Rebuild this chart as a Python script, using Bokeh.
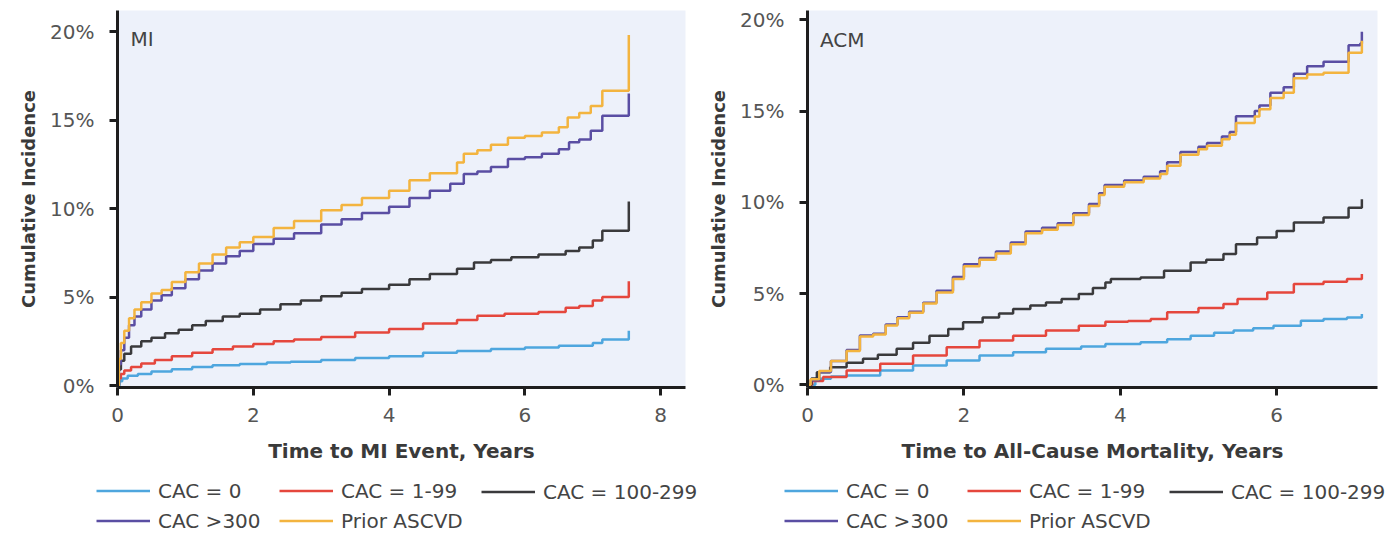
from bokeh.plotting import figure
from bokeh.models import Range1d, FixedTicker, PrintfTickFormatter, Legend, LegendItem, Label
from bokeh.layouts import row, column
from bokeh.embed import file_html
from bokeh.resources import INLINE

# ---------------- data ----------------
series_names = ["CAC = 0", "CAC = 1-99", "CAC = 100-299", "CAC >300", "Prior ASCVD"]
series_colors = ["#4ea6de", "#e5473d", "#3a3a3c", "#5a4ea3", "#f3b43f"]

# MI panel (years, cumulative incidence %)
mi_t_cac0 = [0, 0.03, 0.07, 0.15, 0.3, 0.5, 0.8, 1.1, 1.4, 1.8, 2.2, 2.55, 3.0, 3.5, 4.0, 4.5, 5.0, 5.5, 6.0, 6.5, 7.0, 7.14, 7.53, 7.53]
mi_v_cac0 = [0, 0.25, 0.4, 0.55, 0.65, 0.8, 0.92, 1.05, 1.15, 1.22, 1.3, 1.35, 1.45, 1.55, 1.65, 1.85, 1.95, 2.07, 2.15, 2.25, 2.4, 2.6, 2.6, 3.1]

mi_t_cac1 = [0, 0.02, 0.05, 0.1, 0.2, 0.35, 0.55, 0.8, 1.1, 1.4, 1.7, 2.0, 2.3, 2.6, 3.0, 3.5, 4.0, 4.5, 5.0, 5.3, 5.7, 6.2, 6.6, 6.8, 7.0, 7.14, 7.53, 7.53]
mi_v_cac1 = [0, 0.4, 0.65, 0.85, 1.05, 1.25, 1.45, 1.65, 1.85, 2.05, 2.2, 2.35, 2.5, 2.6, 2.75, 3.0, 3.2, 3.5, 3.7, 3.95, 4.05, 4.15, 4.4, 4.5, 4.8, 5.0, 5.0, 5.9]

mi_t_cac100 = [0, 0.02, 0.05, 0.1, 0.2, 0.35, 0.5, 0.7, 0.9, 1.1, 1.3, 1.55, 1.8, 2.1, 2.4, 2.7, 3.0, 3.3, 3.6, 4.0, 4.3, 4.6, 5.0, 5.25, 5.5, 5.8, 6.2, 6.6, 6.8, 7.0, 7.14, 7.53, 7.53]
mi_v_cac100 = [0, 0.9, 1.4, 1.8, 2.2, 2.5, 2.7, 2.95, 3.15, 3.4, 3.65, 3.9, 4.05, 4.3, 4.6, 4.8, 5.05, 5.25, 5.45, 5.7, 6.0, 6.3, 6.6, 6.95, 7.1, 7.25, 7.4, 7.6, 7.8, 8.2, 8.75, 8.75, 10.4]

mi_t_cac300 = [0, 0.02, 0.05, 0.1, 0.17, 0.25, 0.35, 0.5, 0.65, 0.8, 1.0, 1.2, 1.4, 1.6, 1.8, 2.0, 2.3, 2.6, 3.0, 3.3, 3.6, 4.0, 4.3, 4.6, 4.9, 5.1, 5.3, 5.5, 5.75, 6.0, 6.25, 6.5, 6.65, 6.8, 6.97, 7.14, 7.53, 7.53]
mi_v_cac300 = [0, 1.2, 2.0, 2.7, 3.4, 3.9, 4.3, 4.8, 5.1, 5.5, 6.0, 6.5, 6.9, 7.3, 7.6, 8.0, 8.3, 8.6, 9.1, 9.4, 9.75, 10.1, 10.6, 11.0, 11.4, 11.95, 12.1, 12.35, 12.8, 12.9, 13.1, 13.35, 13.75, 13.9, 14.4, 15.25, 15.25, 16.5]

mi_t_prior = [0, 0.02, 0.05, 0.1, 0.17, 0.25, 0.35, 0.5, 0.65, 0.8, 1.0, 1.2, 1.4, 1.6, 1.8, 2.0, 2.3, 2.6, 3.0, 3.3, 3.6, 4.0, 4.3, 4.6, 5.0, 5.1, 5.3, 5.5, 5.75, 6.0, 6.25, 6.5, 6.63, 6.8, 6.97, 7.14, 7.53, 7.53]
mi_v_prior = [0, 1.5, 2.4, 3.1, 3.8, 4.3, 4.7, 5.2, 5.4, 5.85, 6.4, 6.9, 7.4, 7.8, 8.1, 8.4, 8.9, 9.3, 9.9, 10.2, 10.6, 11.0, 11.6, 12.0, 12.6, 13.1, 13.3, 13.6, 14.0, 14.1, 14.3, 14.6, 15.15, 15.4, 15.8, 16.65, 16.65, 19.8]

# ACM panel (years, cumulative incidence %)
acm_t_cac0 = [0, 0.1, 0.3, 0.5, 0.93, 1.35, 1.78, 2.2, 2.63, 3.05, 3.5, 3.81, 4.26, 4.6, 4.9, 5.2, 5.45, 5.7, 5.96, 6.31, 6.6, 6.9, 7.09]
acm_v_cac0 = [0, 0.33, 0.45, 0.51, 0.78, 1.05, 1.33, 1.6, 1.78, 1.97, 2.1, 2.24, 2.33, 2.5, 2.69, 2.85, 2.97, 3.1, 3.24, 3.51, 3.6, 3.69, 3.88]

acm_t_cac1 = [0, 0.06, 0.2, 0.5, 0.93, 1.35, 1.78, 2.2, 2.63, 3.05, 3.47, 3.81, 4.1, 4.39, 4.6, 5.0, 5.32, 5.5, 5.88, 6.22, 6.6, 6.9, 7.09]
acm_v_cac1 = [0, 0.2, 0.42, 0.78, 1.15, 1.6, 2.05, 2.42, 2.69, 2.97, 3.24, 3.45, 3.5, 3.61, 3.97, 4.2, 4.43, 4.7, 5.06, 5.52, 5.65, 5.79, 6.07]

acm_t_cac100 = [0, 0.05, 0.12, 0.29, 0.5, 0.71, 0.9, 1.14, 1.35, 1.56, 1.8, 1.99, 2.24, 2.45, 2.63, 2.85, 3.05, 3.25, 3.47, 3.65, 3.81, 3.88, 4.26, 4.56, 4.9, 5.1, 5.32, 5.48, 5.75, 6.0, 6.22, 6.6, 6.92, 7.09]
acm_v_cac100 = [0, 0.35, 0.69, 0.96, 1.2, 1.42, 1.65, 1.97, 2.3, 2.69, 3.05, 3.42, 3.69, 3.9, 4.15, 4.35, 4.51, 4.7, 4.97, 5.3, 5.6, 5.79, 5.88, 6.25, 6.7, 6.85, 7.16, 7.7, 8.07, 8.43, 8.89, 9.16, 9.7, 10.16]

acm_t_cac300 = [0, 0.04, 0.15, 0.3, 0.5, 0.67, 0.84, 1.0, 1.15, 1.3, 1.48, 1.65, 1.86, 2.0, 2.2, 2.41, 2.6, 2.79, 3.0, 3.2, 3.4, 3.6, 3.73, 3.8, 4.05, 4.3, 4.51, 4.6, 4.77, 5.0, 5.11, 5.3, 5.4, 5.48, 5.72, 5.78, 5.92, 6.09, 6.22, 6.39, 6.6, 6.92, 7.07, 7.09]
acm_v_cac300 = [0, 0.25, 0.7, 1.3, 1.9, 2.7, 2.8, 3.3, 3.7, 4.0, 4.5, 5.15, 5.9, 6.6, 6.95, 7.3, 7.8, 8.4, 8.6, 8.85, 9.4, 9.9, 10.5, 10.95, 11.2, 11.4, 11.7, 12.2, 12.75, 13.05, 13.25, 13.6, 13.85, 14.72, 15.0, 15.3, 16.0, 16.3, 17.05, 17.45, 17.7, 18.6, 18.7, 19.35]

acm_t_prior = [0, 0.04, 0.15, 0.3, 0.5, 0.67, 0.84, 1.0, 1.15, 1.3, 1.48, 1.65, 1.86, 2.0, 2.2, 2.41, 2.6, 2.79, 3.0, 3.2, 3.4, 3.6, 3.73, 3.8, 4.05, 4.3, 4.51, 4.6, 4.77, 5.0, 5.11, 5.3, 5.4, 5.48, 5.72, 5.78, 5.92, 6.09, 6.22, 6.39, 6.6, 6.92, 7.09, 7.09]
acm_v_prior = [0, 0.3, 0.75, 1.3, 1.85, 2.65, 2.75, 3.25, 3.65, 3.95, 4.45, 5.05, 5.8, 6.5, 6.85, 7.2, 7.7, 8.3, 8.5, 8.75, 9.3, 9.8, 10.4, 10.85, 11.1, 11.3, 11.55, 12.0, 12.6, 12.9, 13.1, 13.45, 13.7, 14.35, 14.7, 15.1, 15.72, 16.0, 16.8, 17.0, 17.1, 18.2, 18.2, 18.85]

mi_x_ticks = [0, 2, 4, 6, 8]
acm_x_ticks = [0, 2, 4, 6]
y_ticks = [0, 5, 10, 15, 20]

FONT = "DejaVu Sans"

mi_curves = [(mi_t_cac0, mi_v_cac0), (mi_t_cac1, mi_v_cac1), (mi_t_cac100, mi_v_cac100),
             (mi_t_cac300, mi_v_cac300), (mi_t_prior, mi_v_prior)]
acm_curves = [(acm_t_cac0, acm_v_cac0), (acm_t_cac1, acm_v_cac1), (acm_t_cac100, acm_v_cac100),
              (acm_t_cac300, acm_v_cac300), (acm_t_prior, acm_v_prior)]


def make_panel(width, b_left, b_right, b_top, x_end, y_start, y_end, x_ticks,
               curves, panel_label, label_xy, x_title):
    p = figure(width=width, height=478, output_backend="svg", toolbar_location=None,
               x_range=Range1d(0, x_end), y_range=Range1d(y_start, y_end),
               min_border_left=b_left, min_border_right=b_right,
               min_border_top=b_top, min_border_bottom=91)
    p.background_fill_color = "#edf1fa"
    p.border_fill_color = "white"
    p.outline_line_color = None
    p.grid.grid_line_color = None

    for ax in (p.xaxis[0], p.yaxis[0]):
        ax.axis_line_width = 3
        ax.axis_line_color = "#1e1e1e"
        ax.major_tick_line_width = 3
        ax.major_tick_line_color = "#1e1e1e"
        ax.major_tick_in = 0
        ax.major_tick_out = 8
        ax.minor_tick_line_color = None
        ax.major_label_text_font = FONT
        ax.major_label_text_font_size = "20px"
        ax.major_label_text_color = "#555555"
        ax.axis_label_text_font = FONT
        ax.axis_label_text_font_style = "bold"
        ax.axis_label_text_color = "#3a3a3a"

    p.xaxis.ticker = FixedTicker(ticks=x_ticks)
    p.xaxis.major_label_standoff = 12
    p.xaxis.axis_label = x_title
    p.xaxis.axis_label_text_font_size = "20px"
    p.xaxis.axis_label_standoff = 14

    p.yaxis.ticker = FixedTicker(ticks=y_ticks)
    p.yaxis.formatter = PrintfTickFormatter(format="%d%%")
    p.yaxis.major_label_standoff = 15
    p.yaxis.axis_label = "Cumulative Incidence"
    p.yaxis.axis_label_text_font_size = "18px"
    p.yaxis.axis_label_standoff = 8

    for (t, v), color in zip(curves, series_colors):
        p.step(x=t, y=v, mode="after", line_color=color, line_width=2.5)

    p.add_layout(Label(x=label_xy[0], y=label_xy[1], text=panel_label,
                       text_font=FONT, text_font_size="20px", text_color="#444444",
                       text_baseline="middle"))
    return p


p1 = make_panel(705, 117, 20, 10, 8.365, -0.11, 21.19, mi_x_ticks, mi_curves,
                "MI", (0.19, 19.58), "Time to MI Event, Years")
p2 = make_panel(689, 100, 17, 9, 7.29, -0.15, 20.51, acm_x_ticks, acm_curves,
                "ACM", (0.16, 18.9), "Time to All-Cause Mortality, Years")

# ---------------- legend strip ----------------
pl = figure(width=1394, height=60, output_backend="svg", toolbar_location=None,
            x_range=Range1d(100, 101), y_range=Range1d(100, 101),
            x_axis_location=None, y_axis_location=None, min_border=0)
pl.outline_line_color = None
pl.grid.grid_line_color = None
pl.background_fill_color = "white"
leg_rends = []
for (t, v), color in zip(mi_curves, series_colors):
    leg_rends.append(pl.step(x=t, y=v, mode="after", line_color=color, line_width=2.5))

for base in (96, 784):
    specs = [([0, 3], base, 5.5), ([1, 4], base + 183, 5.5), ([2], base + 385, 34.5)]
    for idx, lx, ly in specs:
        leg = Legend(items=[LegendItem(label=series_names[i], renderers=[leg_rends[i]]) for i in idx],
                     location=(lx, ly), orientation="vertical",
                     padding=0, margin=0, spacing=6,
                     glyph_width=54, glyph_height=23, label_height=23,
                     label_standoff=8,
                     label_text_font=FONT, label_text_font_size="20px",
                     label_text_color="#444444",
                     border_line_color=None, background_fill_alpha=0)
        pl.add_layout(leg)

layout = column(row(p1, p2), pl)
open("out.html", "w").write(file_html(layout, INLINE))
